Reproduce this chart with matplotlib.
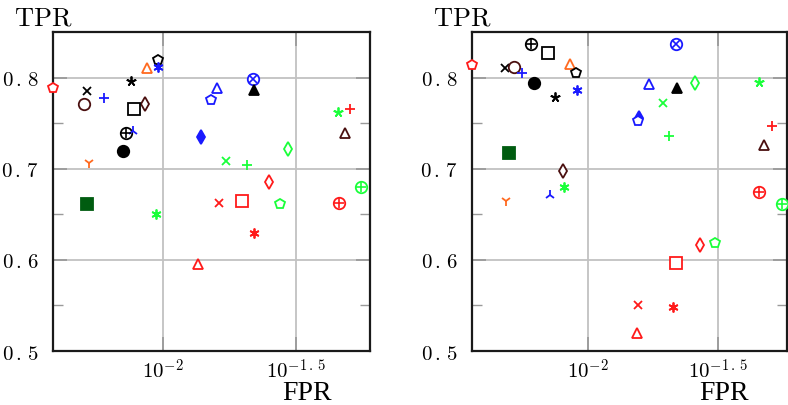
import matplotlib
matplotlib.use("Agg")
import matplotlib.pyplot as plt
from matplotlib.ticker import FixedLocator, NullLocator, FixedFormatter

plt.rcParams['mathtext.fontset'] = 'cm'
plt.rcParams['font.family'] = ['DejaVu Serif']

# Marker styles (one per method), shared by both panels
# (marker, color, filled, overlay)
RED = '#ff1a1a'; BLACK = '#000000'; BROWN = '#4a0f0f'; BLUE = '#1a1aff'
ORANGE = '#ff6a20'; GREEN = '#1aff3a'; DGREEN = '#005c10'
styles = [
    ('p', RED, False, None), ('x', BLACK, False, None), ('o', BROWN, False, None),
    ('+', BLUE, False, None), ('star5', BLACK, False, None), ('^', ORANGE, False, None),
    ('p', BLACK, False, None), ('star6', BLUE, False, None), ('d', BROWN, False, None),
    ('s', BLACK, False, None), ('o', BLACK, False, '+'), ('2', BLUE, False, None),
    ('o', BLACK, True, None), ('1', ORANGE, False, None), ('d', BLUE, True, None),
    ('^', BLUE, False, None), ('p', BLUE, False, None), ('x', GREEN, False, None),
    ('o', BLUE, False, 'x'), ('^', BLACK, True, None), ('d', GREEN, False, None),
    ('+', GREEN, False, None), ('star5', GREEN, False, None), ('+', RED, False, None),
    ('^', BROWN, False, None), ('d', RED, False, None), ('o', GREEN, False, '+'),
    ('s', RED, False, None), ('s', DGREEN, True, None), ('star6', GREEN, False, None),
    ('x', RED, False, None), ('^', RED, False, None), ('p', GREEN, False, None),
    ('o', RED, False, '+'), ('star6', RED, False, None),
]

fpr_left = [0.00385, 0.00516, 0.00506, 0.00597, 0.00757, 0.00873, 0.00953, 0.00955, 0.00855,
            0.00776, 0.00726, 0.00769, 0.00705, 0.00526, 0.0139, 0.0159, 0.0151, 0.0173,
            0.0218, 0.0220, 0.0296, 0.0207, 0.0454, 0.0504, 0.0483, 0.0250, 0.0553, 0.0198,
            0.00516, 0.00944, 0.0162, 0.0135, 0.0275, 0.0460, 0.0220]
tpr_left = [0.789, 0.785, 0.771, 0.778, 0.796, 0.811, 0.819, 0.812, 0.771, 0.766, 0.739, 0.741,
            0.719, 0.706, 0.735, 0.789, 0.775, 0.708, 0.798, 0.786, 0.722, 0.704, 0.762, 0.766,
            0.739, 0.685, 0.680, 0.665, 0.661, 0.650, 0.662, 0.595, 0.661, 0.662, 0.630]

fpr_right = [0.00358, 0.00479, 0.00518, 0.00558, 0.00748, 0.00855, 0.00897, 0.00910, 0.00800,
             0.00700, 0.00603, 0.00714, 0.00618, 0.00482, 0.0157, 0.0172, 0.0156, 0.0194,
             0.0217, 0.0220, 0.0257, 0.0204, 0.0455, 0.0509, 0.0475, 0.0270, 0.0556, 0.0218,
             0.00497, 0.00811, 0.0156, 0.0154, 0.0307, 0.0455, 0.0213]
tpr_right = [0.8135, 0.811, 0.812, 0.8055, 0.779, 0.815, 0.8055, 0.786, 0.698, 0.8275, 0.837,
             0.671, 0.794, 0.665, 0.756, 0.793, 0.752, 0.7725, 0.837, 0.789, 0.794, 0.7355,
             0.795, 0.747, 0.726, 0.616, 0.661, 0.597, 0.717, 0.680, 0.551, 0.520, 0.618,
             0.675, 0.548]

xlim_left = (10 ** -2.414, 10 ** -1.222)
xlim_right = (10 ** -2.446, 10 ** -1.235)
ylim = (0.5, 0.85)
xticks = [10 ** -2, 10 ** -1.5]
xtick_labels = [r'$10^{-2}$', r'$10^{-1\,.\,5}$']
yticks = [0.5, 0.6, 0.7, 0.8]
ytick_labels = [r'$0\,.\,5$', r'$0\,.\,6$', r'$0\,.\,7$', r'$0\,.\,8$']
yminor = [0.55, 0.65, 0.75]

W, H = 788, 406
fig = plt.figure(figsize=(W / 100, H / 100), dpi=100)
ax1 = fig.add_axes([53 / W, 1 - 352 / H, 317 / W, 319 / H])
ax2 = fig.add_axes([472 / W, 1 - 352 / H, 315 / W, 319 / H])

MS = 7.5

def draw_marker(ax, x, y, st):
    m, c, filled, overlay = st
    ms = MS
    kw = dict(linestyle='none', color=c, markeredgewidth=1.3, clip_on=False, zorder=3)
    if m == 'star5':
        ax.plot([x], [y], marker=(5, 2, 0), markersize=ms * 0.95, **kw)
        return
    if m == 'star6':
        ax.plot([x], [y], marker=(6, 2, 0), markersize=ms * 0.95, **kw)
        return
    size = {'o': ms * 1.1, 'p': ms * 1.05, 's': ms * 1.1, 'd': ms * 1.0, '^': ms * 0.95,
            'x': ms * 0.7, '+': ms * 1.0, '1': ms * 1.0, '2': ms * 1.0}[m]
    if m in ('x', '+', '1', '2'):
        ax.plot([x], [y], marker=m, markersize=size, **kw)
        return
    ax.plot([x], [y], marker=m, markersize=size,
            markerfacecolor=c if filled else 'white', markeredgecolor=c, **kw)
    if overlay is not None:
        osize = size * (0.95 if overlay == '+' else 0.7)
        ax.plot([x], [y], marker=overlay, markersize=osize, linestyle='none', color=c,
                markeredgewidth=1.2, clip_on=False, zorder=4)

for ax, fx, ty, xl in ((ax1, fpr_left, tpr_left, xlim_left), (ax2, fpr_right, tpr_right, xlim_right)):
    ax.set_xscale('log')
    ax.set_xlim(*xl)
    ax.set_ylim(*ylim)
    ax.xaxis.set_major_locator(FixedLocator(xticks))
    ax.xaxis.set_major_formatter(FixedFormatter(xtick_labels))
    ax.xaxis.set_minor_locator(NullLocator())
    ax.yaxis.set_major_locator(FixedLocator(yticks))
    ax.yaxis.set_major_formatter(FixedFormatter(ytick_labels))
    ax.yaxis.set_minor_locator(FixedLocator(yminor))
    ax.grid(True, which='major', color='#c2c2c2', linewidth=1.3, zorder=0)
    ax.set_axisbelow(True)
    ax.tick_params(which='major', direction='in', length=10, width=1.3, color='#9a9a9a',
                   top=True, right=True, labelsize=15)
    ax.tick_params(which='minor', direction='in', length=7, width=1.0, color='#9a9a9a',
                   top=True, right=True)
    ax.tick_params(axis='x', pad=5)
    ax.tick_params(axis='y', pad=10)
    for sp in ax.spines.values():
        sp.set_linewidth(1.6)
        sp.set_color('#1a1a1a')
    for x, y, st in zip(fx, ty, styles):
        draw_marker(ax, x, y, st)
    ax.text(-0.123, 1.047, r'$\mathrm{TPR}$', transform=ax.transAxes, fontsize=19,
            ha='left', va='center')
    ax.text(0.80, -0.150, 'FPR', family='Liberation Serif', transform=ax.transAxes,
            fontsize=20, ha='center', va='baseline')

fig.savefig('out.png', dpi=100)
